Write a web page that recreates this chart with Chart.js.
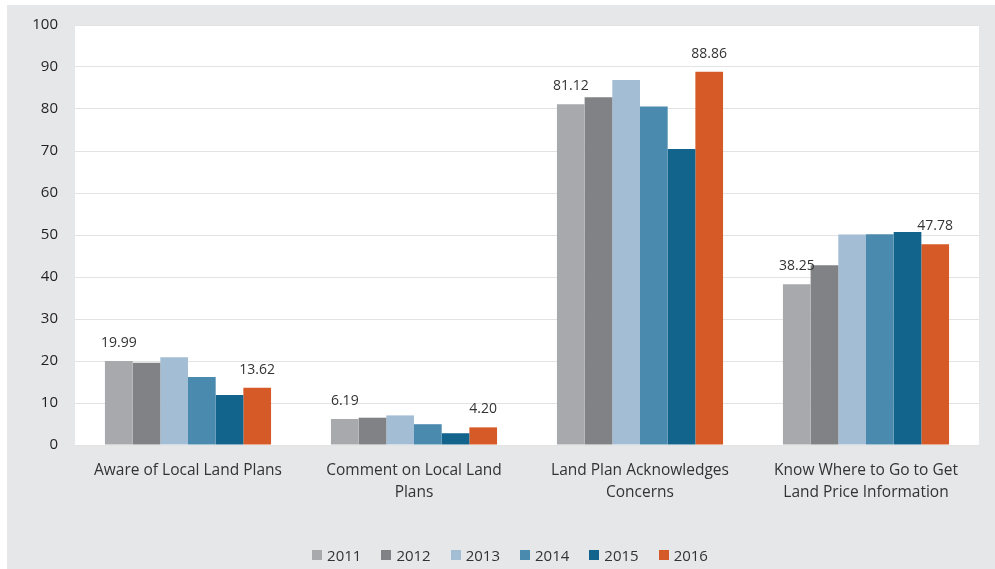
<!DOCTYPE html>
<html>
<head>
<meta charset="utf-8">
<script src="https://cdn.jsdelivr.net/npm/chart.js@4.4.1/dist/chart.umd.min.js"></script>
<style>
  html, body { margin: 0; padding: 0; background: #fff; }
  #wrap { position: absolute; left: 7px; top: 5px; width: 988px; height: 564px; background: #e6e7e8; }
  #legend { position: absolute; left: 0; top: 539px; width: 988px; box-sizing: border-box; padding-left: 18px;
            display: flex; justify-content: center; align-items: center; height: 22px;
            font: 15px 'Open Sans', sans-serif; color: #333; }
  #legend .item { display: flex; align-items: center; margin: 0 10px; }
  #legend .box { width: 10px; height: 10px; margin-right: 5px; }
</style>
</head>
<body>
<div id="wrap"><canvas id="chart"></canvas><div id="legend"></div></div>
<script>
const CATEGORIES = [
  ["Aware of Local Land Plans"],
  ["Comment on Local Land", "Plans"],
  ["Land Plan Acknowledges", "Concerns"],
  ["Know Where to Go to Get", "Land Price Information"],
];
const YEARS = ["2011", "2012", "2013", "2014", "2015", "2016"];
const V2011 = [19.99, 6.19, 81.12, 38.25];
const V2012 = [19.6, 6.5, 82.8, 42.8];
const V2013 = [20.9, 7.05, 86.9, 50.1];
const V2014 = [16.2, 4.95, 80.6, 50.2];
const V2015 = [11.9, 2.8, 70.5, 50.7];
const V2016 = [13.62, 4.2, 88.86, 47.78];
const COLORS = ["#a7a9ac", "#808285", "#a3bdd4", "#4a8aae", "#13648c", "#d65a27"];
// only first and last year carry value labels
const LABELED = [0, 5];

const FONT = "'Open Sans', sans-serif";

const plotBg = {
  id: "plotBg",
  beforeDraw(chart) {
    const { ctx, chartArea: a } = chart;
    ctx.save();
    ctx.fillStyle = "#fff";
    ctx.fillRect(a.left, a.top, a.right - a.left, a.bottom - a.top);
    ctx.restore();
  },
};

const valueLabels = {
  id: "valueLabels",
  afterDatasetsDraw(chart) {
    const ctx = chart.ctx;
    ctx.save();
    ctx.font = "14px " + FONT;
    ctx.fillStyle = "#333";
    ctx.textAlign = "center";
    ctx.textBaseline = "middle";
    LABELED.forEach((di) => {
      const meta = chart.getDatasetMeta(di);
      meta.data.forEach((bar, i) => {
        const v = chart.data.datasets[di].data[i];
        ctx.fillText(v.toFixed(2), bar.x, bar.y - 18);
      });
    });
    ctx.restore();
  },
};

const series = [V2011, V2012, V2013, V2014, V2015, V2016];

// html legend
const legendEl = document.getElementById("legend");
YEARS.forEach((y, i) => {
  const item = document.createElement("div");
  item.className = "item";
  item.innerHTML = '<span class="box" style="background:' + COLORS[i] + '"></span><span>' + y + "</span>";
  legendEl.appendChild(item);
});

new Chart(document.getElementById("chart"), {
  type: "bar",
  data: {
    labels: CATEGORIES,
    datasets: YEARS.map((y, i) => ({
      label: y,
      data: series[i],
      backgroundColor: COLORS[i],
      borderWidth: 0,
      categoryPercentage: 0.735,
      barPercentage: 1,
    })),
  },
  options: {
    responsive: true,
    maintainAspectRatio: false,
    animation: false,
    layout: { padding: { top: 20, right: 16, left: 0, bottom: 44 } },
    plugins: {
      tooltip: { enabled: false },
      legend: { display: false },
    },
    scales: {
      x: {
        grid: { display: false },
        border: { display: false },
        ticks: {
          color: "#333",
          font: { family: FONT, size: 15.5, lineHeight: 1.42 },
          padding: 7,
          maxRotation: 0,
          autoSkip: false,
        },
        afterFit(scale) { scale.height = 80; },
      },
      y: {
        min: 0,
        max: 100,
        ticks: {
          stepSize: 10,
          color: "#231f20",
          font: { family: FONT, size: 15 },
          padding: 0,
        },
        grid: { color: "#e3e3e3", drawTicks: true, tickLength: 17, tickColor: "rgba(0,0,0,0)" },
        border: { display: false },
        afterFit(scale) { scale.width = 68; },
      },
    },
  },
  plugins: [plotBg, valueLabels],
});
</script>
</body>
</html>
